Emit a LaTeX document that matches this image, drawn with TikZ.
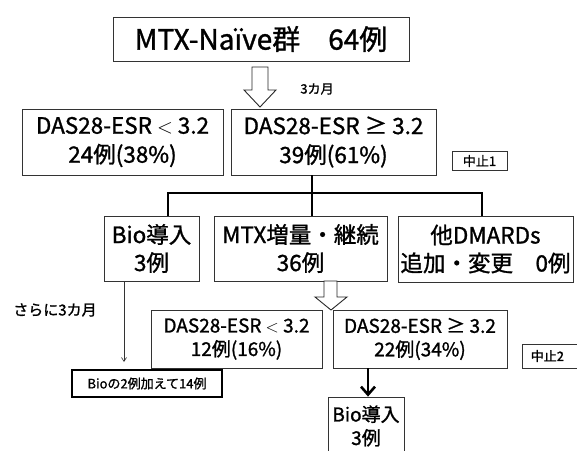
\documentclass[tikz,border=0pt]{standalone}
\usepackage{fontspec}
\setmainfont{Noto Sans CJK JP}[FakeBold=1.2]
\usetikzlibrary{arrows.meta,calc}
\begin{document}
\begin{tikzpicture}[x=1pt,y=-1pt,
  box/.style={draw=black!80,line width=0.8pt,inner sep=0pt,align=center},
  fbig/.style={font=\fontsize{28}{30}\selectfont},
  fmid/.style={font=\fontsize{22.5}{29}\selectfont},
  fmidb/.style={font=\fontsize{22.5}{28}\selectfont},
  fsm/.style={font=\fontsize{19}{23.5}\selectfont},
  ftiny/.style={font=\fontsize{13}{15}\selectfont},
  hollow/.style={draw=black!85,line width=0.9pt,fill=white,line join=miter},
  tree/.style={draw=black,line width=2.6pt},
  thinarrow/.style={draw=black!80,line width=0.6pt,-{Straight Barb[length=4pt,width=5pt]}},
  thickarrow/.style={draw=black,line width=2.6pt,-{Straight Barb[length=8pt,width=14pt,line width=2.6pt]}}]
\useasboundingbox (0,0) rectangle (577,450);

% top
\node[box,fbig,minimum width=296,minimum height=44] (top) at (261,39) {MTX-Naïve群　64例};
\node[ftiny,inner sep=0pt] (m3) at (317,89) {3カ月};

% first hollow arrow
\draw[hollow] (252,67) -- (268,67) -- (268,90) -- (276,90) -- (260,107) -- (244,90) -- (252,90) -- cycle;

% row 2
\node[box,fmid,minimum width=201,minimum height=66] (l2) at (122.5,142) {DAS28-ESR $<$ 3.2\\24例(38\%)};
\node[box,fmid,minimum width=205,minimum height=66] (r2) at (333.5,142) {DAS28-ESR ≥ 3.2\\39例(61\%)};
\node[box,ftiny,minimum width=55,minimum height=19] (stop1) at (479.5,161) {中止1};

% row 3
\node[box,fmidb,minimum width=95,minimum height=65] (bio) at (151.5,248.5) {Bio導入\\3例};
\node[box,fmidb,minimum width=173,minimum height=65] (mtx) at (300.5,248.5) {MTX増量・継続\\36例};
\node[box,fmidb,minimum width=175,minimum height=66] (dmard) at (485.5,249) {他DMARDs\\追加・変更　0例};

% tree
\coordinate (j) at (312,193);
\coordinate (jl) at (168,193);
\coordinate (jr) at (482,193);
\draw[tree] (r2.south -| j) -- (j);
\draw[tree] (bio.north -| jl) -- (jl) -- (jr) -- (dmard.north -| jr);
\draw[tree] (j) -- (mtx.north -| j);

% second hollow arrow
\draw[hollow] (324,281) -- (337,281) -- (337,297) -- (347,297) -- (331,310) -- (315,297) -- (324,297) -- cycle;

% row 4
\node[box,fsm,minimum width=171,minimum height=58] (l4) at (236.5,339) {DAS28-ESR $<$ 3.2\\12例(16\%)};
\node[box,fsm,minimum width=174,minimum height=58] (r4) at (420,339) {DAS28-ESR ≥ 3.2\\22例(34\%)};
\node[box,ftiny,minimum width=58,minimum height=24,anchor=west,inner xsep=6pt] (stop2) at (522,356) {中止2\hspace{8pt}};

% left side
\node[font=\fontsize{15}{17}\selectfont,inner sep=0pt] (more) at (55,310) {さらに3カ月};
\node[box,ftiny,line width=1.5pt,draw=black,minimum width=150,minimum height=27] (bio14) at (147,383.5) {Bioの2例加えて14例};
\coordinate (bx) at (124,0);
\coordinate (bend) at (124,362);
\draw[thinarrow] (bio.south -| bx) -- (bend);

% lower Bio
\node[box,fsm,minimum width=76,minimum height=58] (bio2) at (366,426) {Bio導入\\3例};
\coordinate (ax) at (368,0);
\draw[thickarrow] (r4.south -| ax) -- (bio2.north -| ax);
\end{tikzpicture}
\end{document}
